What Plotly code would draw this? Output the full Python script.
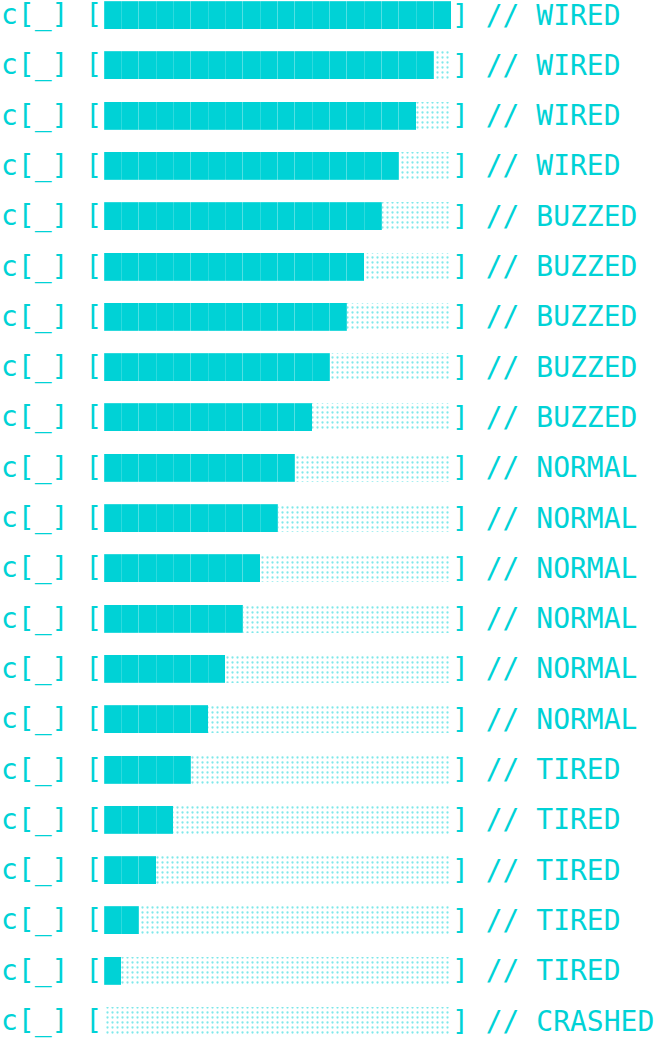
import plotly.graph_objects as go

# ---- data ----
levels = [20, 19, 18, 17, 16, 15, 14, 13, 12, 11, 10, 9, 8, 7, 6, 5, 4, 3, 2, 1, 0]
status = ["WIRED"] * 4 + ["BUZZED"] * 5 + ["NORMAL"] * 6 + ["TIRED"] * 5 + ["CRASHED"]
row_label = "c[_]"
MAX = 20

CYAN = "#00D2D6"
FONT = "DejaVu Sans Mono"
W, H = 658, 1043

rows = list(range(len(levels)))

fig = go.Figure()

# filled unit segments
for k in range(MAX):
    xs = [1 if v > k else None for v in levels]
    fig.add_trace(go.Bar(
        y=rows, x=xs, orientation="h",
        marker=dict(color=CYAN, line=dict(color="rgba(255,255,255,0.35)", width=0.5)),
        showlegend=False, hoverinfo="skip",
    ))

# dotted remainder
fig.add_trace(go.Bar(
    y=rows, x=[MAX - v for v in levels], orientation="h",
    marker=dict(color="white", line=dict(width=0),
                pattern=dict(shape=".", fgcolor=CYAN, bgcolor="white",
                             size=5, solidity=0.16, fillmode="overlay")),
    showlegend=False, hoverinfo="skip",
))

# text labels
for i, (v, s) in enumerate(zip(levels, status)):
    fig.add_annotation(x=0, xref="paper", y=i, yref="y", xanchor="left",
                       yanchor="middle", text=row_label + " [", showarrow=False,
                       font=dict(family=FONT, size=28, color=CYAN), borderpad=0)
    fig.add_annotation(x=MAX, xref="x", y=i, yref="y", xanchor="left",
                       yanchor="middle", text="] // " + s, showarrow=False,
                       font=dict(family=FONT, size=28, color=CYAN), borderpad=0)

px_per_unit = (451 - 104) / MAX
x0 = -104 / px_per_unit
x1 = (W - 104) / px_per_unit
pitch = (1021 - 15) / (len(levels) - 1)
y_top = -15 / pitch
y_bot = (len(levels) - 1) + (H - 1021) / pitch

fig.update_layout(
    width=W, height=H,
    margin=dict(l=0, r=0, t=0, b=0),
    barmode="stack", bargap=1 - 28 / pitch,
    plot_bgcolor="white", paper_bgcolor="white",
    xaxis=dict(range=[x0, x1], visible=False, fixedrange=True),
    yaxis=dict(range=[y_bot, y_top], visible=False, fixedrange=True),
)

fig.write_html("out.html")
